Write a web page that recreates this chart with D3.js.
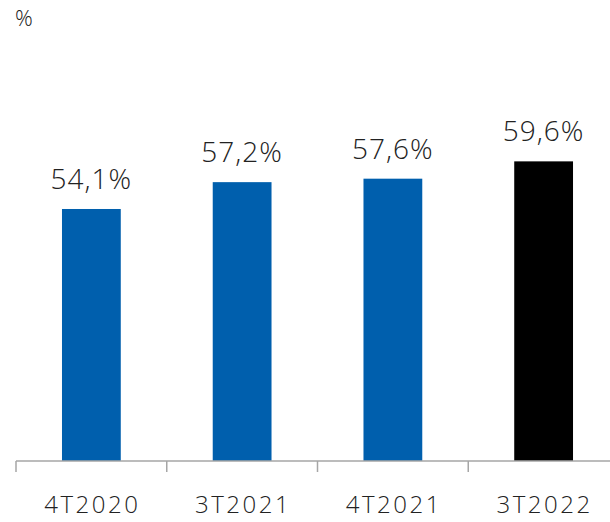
<!DOCTYPE html>
<html>
<head>
<meta charset="utf-8">
<script src="https://cdn.jsdelivr.net/npm/d3@7"></script>
<style>
  html, body { margin: 0; padding: 0; background: #fff; }
  svg text { font-family: "Open Sans", sans-serif; font-weight: 300; fill: #222; }
</style>
</head>
<body>
<svg id="chart" width="610" height="522"></svg>
<script>
const categories = ["4T2020", "3T2021", "4T2021", "3T2022"];
const values = [54.1, 57.2, 57.6, 59.6];
const valueLabels = ["54,1%", "57,2%", "57,6%", "59,6%"];
const colors = ["#005FAD", "#005FAD", "#005FAD", "#000000"];
const unitLabel = "%";

const svg = d3.select("#chart");
const x0 = 16, x1 = 619, yBase = 461, yTop = 28;

const x = d3.scaleBand().domain(categories).range([x0, x1]).paddingInner(0.61).paddingOuter(0.305);
const y = d3.scaleLinear().domain([25, 75]).range([yBase, yTop]);

// bars
svg.selectAll("rect.bar").data(categories).enter().append("rect")
  .attr("class", "bar")
  .attr("x", d => x(d))
  .attr("width", x.bandwidth())
  .attr("y", (d, i) => y(values[i]))
  .attr("height", (d, i) => yBase - y(values[i]))
  .attr("fill", (d, i) => colors[i]);

// value labels
svg.selectAll("text.val").data(categories).enter().append("text")
  .attr("class", "val")
  .attr("x", d => x(d) + x.bandwidth() / 2)
  .attr("y", (d, i) => y(values[i]) - 20)
  .attr("text-anchor", "middle")
  .style("font-size", "28px")
  .style("letter-spacing", "1px")
  .text((d, i) => valueLabels[i]);

// x axis
const band = d3.scaleBand().domain(categories).range([x0, x1]);
const axis = svg.append("g");
axis.append("line").attr("x1", x0).attr("x2", 610).attr("y1", yBase).attr("y2", yBase)
  .attr("stroke", "#a6a6a6").attr("stroke-width", 1.5);
axis.selectAll("line.tick").data(categories).enter().append("line")
  .attr("class", "tick")
  .attr("x1", d => band(d)).attr("x2", d => band(d))
  .attr("y1", yBase).attr("y2", yBase + 11)
  .attr("stroke", "#a6a6a6").attr("stroke-width", 1.5);
axis.selectAll("text.cat").data(categories).enter().append("text")
  .attr("class", "cat")
  .attr("x", d => band(d) + band.bandwidth() / 2 + 1)
  .attr("y", 513)
  .attr("text-anchor", "middle")
  .style("font-size", "24px")
  .style("letter-spacing", "2.5px")
  .text(d => d);

svg.append("text").attr("x", 15).attr("y", 26)
  .style("font-size", "22px")
  .text(unitLabel);
</script>
</body>
</html>
